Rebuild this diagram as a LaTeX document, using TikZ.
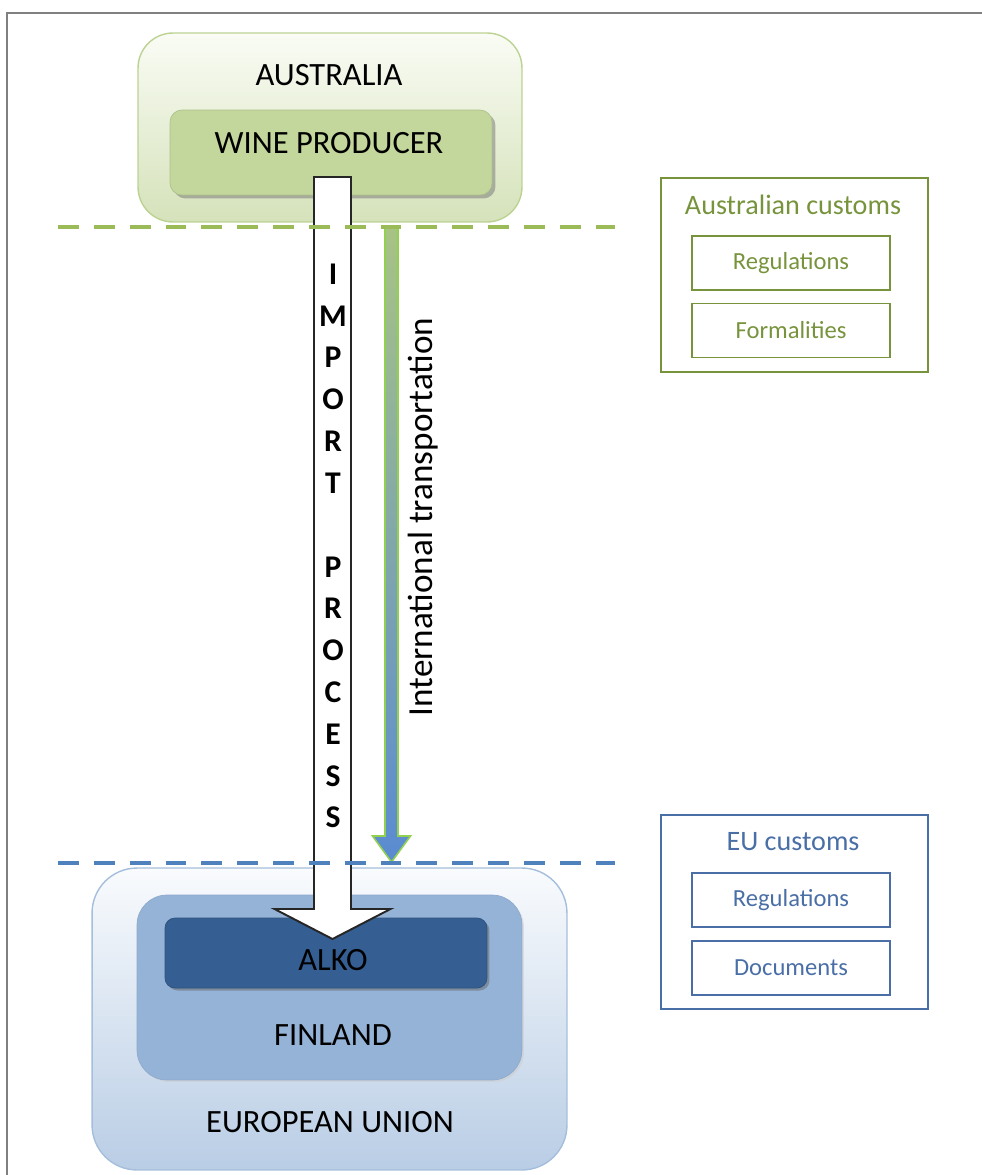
\documentclass[tikz,border=0pt]{standalone}
\usepackage{fontspec}
\setmainfont{Carlito}
\usepackage{tikz}
\usetikzlibrary{calc,shadows}
\definecolor{ausTop}{HTML}{FAFCF5}
\definecolor{ausBot}{HTML}{D5E2BA}
\definecolor{ausEdge}{HTML}{BCD293}
\definecolor{wpFill}{HTML}{C3D69B}
\definecolor{euTop}{HTML}{F9FBFD}
\definecolor{euBot}{HTML}{B9CDE5}
\definecolor{euEdge}{HTML}{A5BEDC}
\definecolor{finFill}{HTML}{95B3D7}
\definecolor{alkoFill}{HTML}{355F92}
\definecolor{ozLine}{HTML}{9BBB59}
\definecolor{euLine}{HTML}{4F81BD}
\definecolor{custGreen}{HTML}{77933C}
\definecolor{custBlue}{HTML}{4A6FA6}
\definecolor{shipTop}{HTML}{A8C384}
\definecolor{shipBot}{HTML}{5A8BD2}
\definecolor{shipEdge}{HTML}{92D050}
\tikzset{
  frame/.style = {draw=black!50, line width=1.2pt},
  bigtxt/.style = {inner sep=0pt, font=\fontsize{18.5}{22}\selectfont},
  ausregion/.style = {rounded corners=0.7cm, top color=ausTop, bottom color=ausBot,
    draw=ausEdge, line width=0.8pt},% pays d'origine
  wpbox/.style = {rounded corners=0.24cm, fill=wpFill, draw=wpFill!90!black, line width=0.4pt,
    drop shadow={shadow xshift=0.07cm, shadow yshift=-0.07cm, fill=black!55}},
  euregion/.style = {rounded corners=0.9cm, top color=euTop, bottom color=euBot,
    draw=euEdge, line width=0.8pt},% union europeenne
  finbox/.style = {rounded corners=0.6cm, fill=finFill, draw=finFill!95!black, line width=0.4pt,
    drop shadow={shadow xshift=0.04cm, shadow yshift=-0.04cm, fill=black!20}},
  alkobox/.style = {rounded corners=0.2cm, fill=alkoFill, draw=alkoFill!85!black, line width=0.4pt,
    drop shadow={shadow xshift=0.05cm, shadow yshift=-0.05cm, fill=black!60}},
  border/.style = {line width=2.3pt, dash pattern=on 11.9pt off 8.5pt},
  custbox/.style = {draw, line width=1pt, minimum width=5.34cm, minimum height=3.88cm},
  custitem/.style = {draw, line width=1pt, minimum width=3.96cm, minimum height=1.08cm,
    font=\fontsize{14}{16.5}\selectfont},
  custtitle/.style = {inner sep=0pt, font=\fontsize{16}{19}\selectfont}
}
\begin{document}
\begin{tikzpicture}[x=0.02cm, y=-0.02cm]
\useasboundingbox (0,0) rectangle (982,1175);
\draw[frame] (7,1176) -- (7,13) -- (983,13);

% Australia
\node[ausregion, minimum width=7.68cm, minimum height=3.78cm] (aus) at (330,127.5) {};
\node[bigtxt] (ausname) at (329,75) {AUSTRALIA};
\node[wpbox, minimum width=6.44cm, minimum height=1.7cm] (wp) at (331,152.5) {};
\node[bigtxt] (wpname) at (329,143) {WINE PRODUCER};

% European Union
\node[euregion, minimum width=9.5cm, minimum height=6.04cm] (eu) at (329.5,1019) {};
\node[finbox, minimum width=7.7cm, minimum height=3.7cm] (fin) at (329.5,987.5) {};
\node[alkobox, minimum width=6.44cm, minimum height=1.4cm] (alko) at (326,953) {};
\node[bigtxt] (alkoname) at (333,960) {ALKO};
\node[bigtxt] (finname) at (333,1035) {FINLAND};
\node[bigtxt] (euname) at (330,1122) {EUROPEAN UNION};

% import process arrow
\coordinate (impS) at (332.5,177);
\coordinate (impE) at (332.5,939);
\draw[fill=white, draw=black!85, line width=1.1pt, line join=miter]
  ($(impS)+(-18.5,0)$) -- ($(impE)+(-18.5,-30)$) -- ($(impE)+(-58,-30)$) -- (impE)
  -- ($(impE)+(58,-30)$) -- ($(impE)+(18.5,-30)$) -- ($(impS)+(18.5,0)$) -- cycle;
\node[inner sep=0pt, align=center, font=\bfseries\fontsize{18}{23.8}\selectfont] (implbl)
  at (333,546) {I\\M\\P\\O\\R\\T\\[23.8pt]P\\R\\O\\C\\E\\S\\S};

% international transportation arrow
\coordinate (shipS) at (391.5,227);
\coordinate (shipE) at (391.5,862);
\shade[top color=shipTop, bottom color=shipBot, draw=shipEdge, line width=0.9pt]
  ($(shipS)+(-6.5,0)$) -- ($(shipE)+(-6.5,-26)$) -- ($(shipE)+(-19,-26)$) -- (shipE)
  -- ($(shipE)+(19,-26)$) -- ($(shipE)+(6.5,-26)$) -- ($(shipS)+(6.5,0)$) -- cycle;
\node[inner sep=0pt, rotate=90, font=\fontsize{20}{24}\selectfont] (shiplbl)
  at (423,517) {International transportation};

% customs borders
\draw[border, ozLine] (58,227) -- (615,227);
\draw[border, euLine] (58,863) -- (615,863);

% customs boxes
\node[custbox, draw=custGreen] (ozc) at (794.5,275) {};
\node[custtitle, text=custGreen] (ozctitle) at (793,205) {Australian customs};
\node[custitem, draw=custGreen, text=custGreen] (ozreg) at (791,263) {Regulations};
\node[custitem, draw=custGreen, text=custGreen] (ozform) at (791,330.5) {Formalities};

\node[custbox, draw=custBlue] (euc) at (794.5,912) {};
\node[custtitle, text=custBlue] (euctitle) at (793,842) {EU customs};
\node[custitem, draw=custBlue, text=custBlue] (eureg) at (791,900) {Regulations};
\node[custitem, draw=custBlue, text=custBlue] (eudoc) at (791,968) {Documents};
\end{tikzpicture}
\end{document}
